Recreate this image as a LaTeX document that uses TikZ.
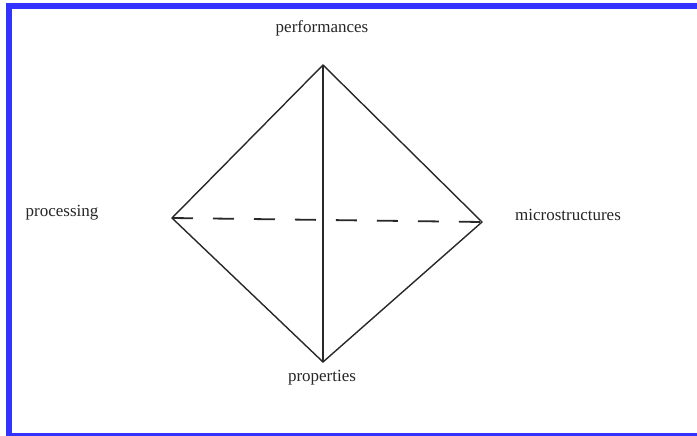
\documentclass[tikz,border=0pt]{standalone}
\usepackage{fontspec}
\setmainfont{Liberation Serif}
\definecolor{frameblue}{RGB}{51,51,255}
\definecolor{linegray}{RGB}{40,40,40}
\begin{document}
\begin{tikzpicture}[x=1pt,y=-1pt,
  lbl/.style={inner sep=0pt,font=\fontsize{17}{19}\selectfont,text=black!85},
  edge/.style={draw=linegray,line width=1.4pt},
  dashedge/.style={draw=linegray,line width=1.8pt,dash pattern=on 21pt off 20pt}]
\useasboundingbox (0,0) rectangle (697,436);
\draw[frameblue,line width=6pt] (9,6) rectangle (710,436);
\coordinate (top) at (323,65);
\coordinate (left) at (172,218);
\coordinate (right) at (482,222);
\coordinate (bot) at (323,362);
\node[lbl] (perf) at (322,28) {performances};
\node[lbl] (proc) at (62,213) {processing};
\node[lbl] (micro) at (568,215) {microstructures};
\node[lbl] (prop) at (322,378) {properties};
\draw[edge] (left) -- (top) -- (right) -- (bot) -- cycle;
\draw[edge] (top) -- (bot);
\draw[dashedge] (left) -- (right);
\end{tikzpicture}
\end{document}
